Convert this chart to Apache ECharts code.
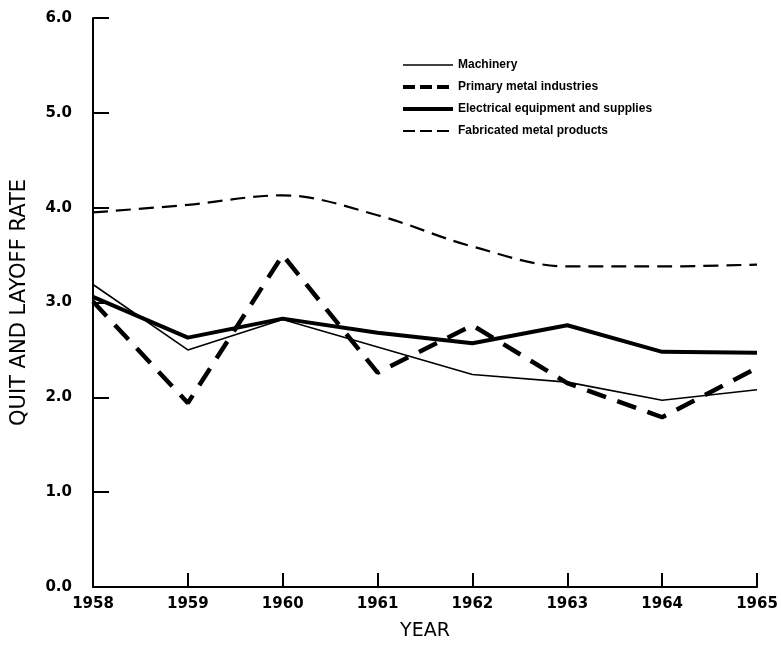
<!DOCTYPE html>
<html>
<head>
<meta charset="utf-8">
<script src="https://cdn.jsdelivr.net/npm/echarts@6/dist/echarts.min.js"></script>
<style>
html,body{margin:0;padding:0;background:#fff;}
#chart{width:781px;height:652px;}
</style>
</head>
<body>
<div id="chart"></div>
<script>
var years = ['1958','1959','1960','1961','1962','1963','1964','1965'];
var yTicks = [0, 1, 2, 3, 4, 5, 6];
var machinery = [3.19, 2.50, 2.82, 2.53, 2.24, 2.16, 1.97, 2.08];
var primaryMetal = [3.01, 1.94, 3.50, 2.26, 2.76, 2.15, 1.79, 2.31];
var electrical = [3.06, 2.63, 2.83, 2.68, 2.57, 2.76, 2.48, 2.47];
var fabricated = [3.95, 4.03, 4.13, 3.92, 3.59, 3.38, 3.38, 3.40];
var seriesNames = ['Machinery', 'Primary metal industries', 'Electrical equipment and supplies', 'Fabricated metal products'];

var chart = echarts.init(document.getElementById('chart'), null, {renderer: 'canvas'});
var fontFam = 'DejaVu Sans';
var legendWidths = [1.5, 4, 4, 2];
var legendDash = ['solid', [12, 5], 'solid', [12, 5]];
var option = {
  backgroundColor: '#ffffff',
  animation: false,
  grid: {left: 93, right: 24, top: 18, bottom: 65, containLabel: false},
  legend: {
    orient: 'vertical',
    left: 396,
    top: 54,
    itemWidth: 50,
    itemHeight: 12,
    itemGap: 10,
    itemStyle: {opacity: 0},
    data: seriesNames.map(function (n, i) {
      return {name: n, itemStyle: {opacity: 0}, lineStyle: {width: legendWidths[i], type: legendDash[i], color: '#000'}};
    }),
    textStyle: {fontFamily: 'Liberation Sans', fontSize: 12, color: '#000', fontWeight: 'bold'}
  },
  xAxis: {
    type: 'category',
    data: years,
    boundaryGap: false,
    name: 'YEAR',
    nameLocation: 'middle',
    nameGap: 35,
    nameTextStyle: {fontFamily: fontFam, fontSize: 19, color: '#000'},
    axisLine: {lineStyle: {color: '#000', width: 2}},
    axisTick: {inside: true, length: 14, alignWithLabel: true, lineStyle: {color: '#000', width: 2}},
    axisLabel: {fontFamily: fontFam, fontSize: 15, fontWeight: 'bold', color: '#000', margin: 10},
    splitLine: {show: false}
  },
  yAxis: {
    type: 'value',
    min: yTicks[0],
    max: yTicks[yTicks.length - 1],
    interval: 1,
    name: 'QUIT AND LAYOFF RATE',
    nameLocation: 'middle',
    nameGap: 63,
    nameRotate: 90,
    nameTextStyle: {fontFamily: fontFam, fontSize: 21, color: '#000'},
    axisLine: {show: true, lineStyle: {color: '#000', width: 2}},
    axisTick: {show: true, inside: true, length: 16, lineStyle: {color: '#000', width: 2}},
    axisLabel: {fontFamily: fontFam, fontSize: 15, fontWeight: 'bold', color: '#000', margin: 21, formatter: function (v) { return v.toFixed(1); }},
    splitLine: {show: false}
  },
  series: [
    {name: seriesNames[0], type: 'line', data: machinery, symbol: 'none', color: '#000',
     lineStyle: {color: '#000', width: 1.6, type: 'solid'}},
    {name: seriesNames[1], type: 'line', data: primaryMetal, symbol: 'none', color: '#000',
     lineStyle: {color: '#000', width: 4.5, type: [20, 12]}},
    {name: seriesNames[2], type: 'line', data: electrical, symbol: 'none', color: '#000',
     lineStyle: {color: '#000', width: 4, type: 'solid'}},
    {name: seriesNames[3], type: 'line', data: fabricated, symbol: 'none', color: '#000', smooth: 0.35,
     lineStyle: {color: '#000', width: 2.2, type: [15, 8]}}
  ]
};
chart.setOption(option);
</script>
</body>
</html>
